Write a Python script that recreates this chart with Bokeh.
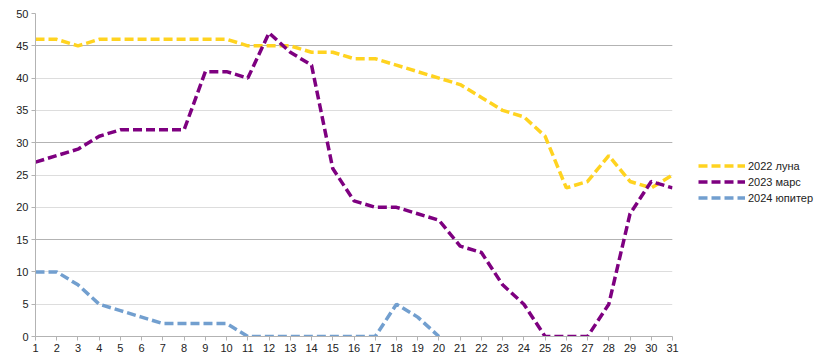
from bokeh.plotting import figure
from bokeh.models import Range1d, FixedTicker, Legend, LegendItem, Grid
from bokeh.embed import file_html
from bokeh.resources import INLINE

days = list(range(1, 32))
luna_2022 = [46, 46, 45, 46, 46, 46, 46, 46, 46, 46, 45, 45, 45, 44, 44, 43, 43, 42, 41, 40,
             39, 37, 35, 34, 31, 23, 24, 28, 24, 23, 25]
mars_2023 = [27, 28, 29, 31, 32, 32, 32, 32, 41, 41, 40, 47, 44, 42, 26, 21, 20, 20, 19, 18,
             14, 13, 8, 5, 0, 0, 0, 5, 19, 24, 23]
jupiter_days = list(range(1, 21))
jupiter_2024 = [10, 10, 8, 5, 4, 3, 2, 2, 2, 2, 0, 0, 0, 0, 0, 0, 0, 5, 3, 0]
names = ["2022 луна", "2023 марс", "2024 юпитер"]
colors = ["#ffd320", "#7e0080", "#729fcf"]
y_ticks = list(range(0, 51, 5))
dark_ticks = [15, 30, 45]

FONT = "Liberation Sans"

p = figure(frame_width=637, frame_height=323, output_backend="svg", toolbar_location=None,
           x_range=Range1d(1, 31), y_range=Range1d(0, 50),
           min_border_left=35, min_border_right=10, min_border_top=13, min_border_bottom=19)
p.outline_line_color = None
p.background_fill_color = "white"
p.border_fill_color = "white"

p.xaxis.ticker = FixedTicker(ticks=days)
p.yaxis.ticker = FixedTicker(ticks=y_ticks)
for ax in (p.xaxis, p.yaxis):
    ax.axis_line_color = "#b3b3b3"
    ax.major_tick_line_color = "#b3b3b3"
    ax.major_tick_out = 4
    ax.major_tick_in = 0
    ax.minor_tick_line_color = None
    ax.major_label_text_font = FONT
    ax.major_label_text_font_size = "11px"
    ax.major_label_text_color = "#222222"
    ax.major_label_standoff = 3

p.xgrid.grid_line_color = None
p.ygrid.ticker = FixedTicker(ticks=y_ticks)
p.ygrid.grid_line_color = "#dddddd"
p.ygrid.grid_line_width = 1
p.add_layout(Grid(dimension=1, ticker=FixedTicker(ticks=dark_ticks), grid_line_color="#b3b3b3"))
p.add_layout(Grid(dimension=0, ticker=FixedTicker(ticks=[days[-1]]), grid_line_color="#b3b3b3"))

r1 = p.line(days, luna_2022, line_color=colors[0], line_width=3.5, line_dash="9 4")
r2 = p.line(days, mars_2023, line_color=colors[1], line_width=3.5, line_dash="9 4")
r3 = p.line(jupiter_days, jupiter_2024, line_color=colors[2], line_width=3.5, line_dash="9 4")

legend = Legend(items=[LegendItem(label=names[0], renderers=[r1]),
                       LegendItem(label=names[1], renderers=[r2]),
                       LegendItem(label=names[2], renderers=[r3])],
                location="center_left", padding=0, margin=26, spacing=0,
                glyph_width=47, glyph_height=16, label_height=16, label_standoff=3,
                title=" ", title_text_font_size="11px", title_standoff=1,
                border_line_color=None, background_fill_alpha=0,
                label_text_font=FONT, label_text_font_size="11px", label_text_color="#222222")
p.add_layout(legend, "right")

open("out.html", "w").write(file_html(p, INLINE))
